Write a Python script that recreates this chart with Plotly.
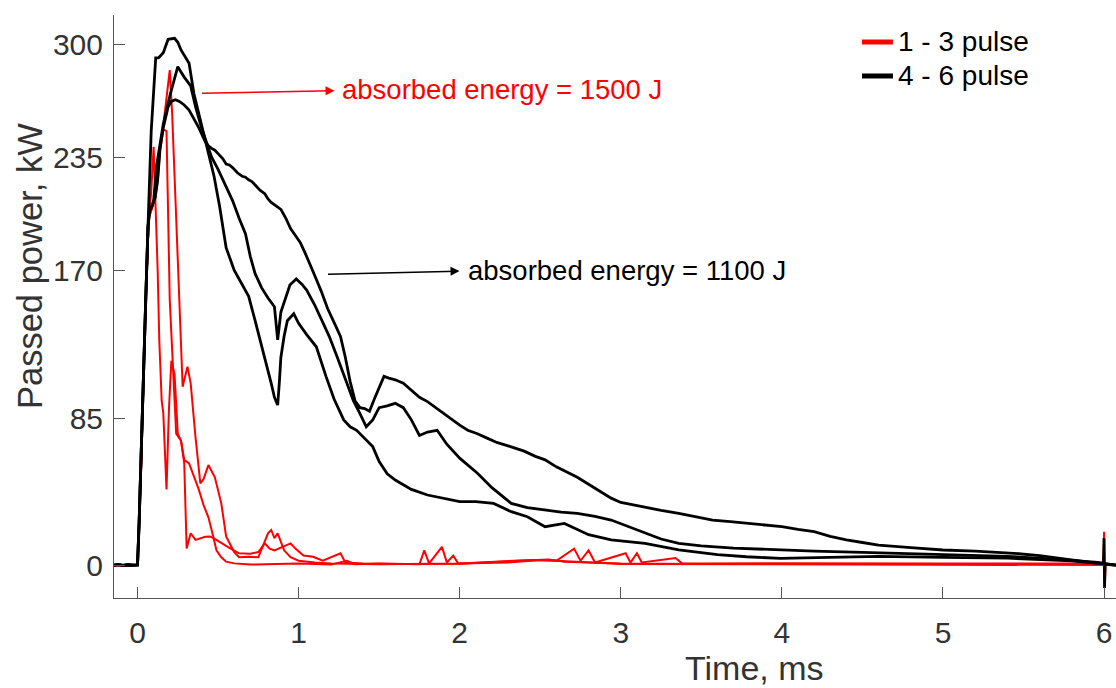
import plotly.graph_objects as go

FONT = "Liberation Sans, Arial, sans-serif"

# ---------------- data (time in ms, passed power in kW) ----------------
base_t = [-0.146, -0.12, -0.09, -0.06, -0.03, 0.0, 0.01, 0.03, 0.05, 0.065]
base_p = [0.5, 0.8, 0.4, 0.7, 0.5, 0.6, 25, 95, 150, 195]

# black pulse with lowest peak / highest tail
t_black_a = base_t + [0.075, 0.09, 0.11, 0.125, 0.14, 0.16, 0.19, 0.21, 0.235, 0.26, 0.29, 0.32, 0.35, 0.38,
    0.42, 0.44, 0.46, 0.48, 0.5, 0.53, 0.55, 0.57, 0.59, 0.62, 0.65, 0.67, 0.69, 0.71, 0.73, 0.76, 0.79,
    0.81, 0.83, 0.86, 0.89, 0.92, 0.95, 0.98, 1.01, 1.04, 1.07, 1.1, 1.14, 1.18, 1.22, 1.26, 1.29, 1.32,
    1.35, 1.38, 1.41, 1.44, 1.47, 1.5, 1.53, 1.56, 1.6, 1.65, 1.7, 1.75, 1.8, 1.85, 1.9, 1.95, 2.0, 2.05,
    2.11, 2.17, 2.23, 2.32, 2.4, 2.47, 2.53, 2.6, 2.67, 2.73, 2.8, 2.87, 2.94, 3.0, 3.08, 3.15, 3.25, 3.36,
    3.46, 3.57, 3.68, 3.78, 3.9, 4.0, 4.1, 4.2, 4.3, 4.4, 4.5, 4.6, 4.8, 5.0, 5.2, 5.44, 5.6, 5.8, 5.96,
    5.996, 6.0, 6.003, 6.006, 6.074]
p_black_a = base_p + [204, 207, 212, 222, 240, 252, 264, 267, 268, 267, 265, 262, 257, 252,
    244, 241.5, 240, 239, 237, 234, 231, 230.5, 229, 226, 224, 223.5, 222, 221, 219, 216, 214,
    211, 209, 207, 205, 200, 194, 190, 186, 180, 173, 167, 158, 148, 140, 132, 120, 106,
    95, 91, 90.5, 89, 96, 103, 109, 108, 107, 105, 101, 97, 94.5, 91, 88, 84.5, 81, 78,
    76, 73.5, 71, 68.5, 66, 63, 61, 57, 54, 51, 47, 43, 39, 36.5, 35, 34, 32, 30.3,
    28.4, 26.4, 25.5, 24.5, 23.5, 22.6, 21, 19.7, 17, 15, 13.5, 12, 10.5, 9.2, 8.5, 7.3, 6, 3.5, 1.5,
    1.5, 16, -12.6, 1.0, 0.5]

# black pulse with middle peak
t_black_b = base_t + [0.075, 0.09, 0.1, 0.12, 0.16, 0.2, 0.23, 0.25, 0.27, 0.29, 0.33, 0.36, 0.4, 0.43,
    0.46, 0.5, 0.53, 0.56, 0.59, 0.63, 0.67, 0.7, 0.73, 0.77, 0.81, 0.85, 0.87, 0.89, 0.92, 0.946, 0.985,
    1.02, 1.05, 1.1, 1.15, 1.19, 1.24, 1.3, 1.34, 1.38, 1.42, 1.46, 1.5, 1.55, 1.6, 1.65, 1.7, 1.75, 1.8,
    1.86, 1.92, 2.0, 2.11, 2.2, 2.32, 2.42, 2.53, 2.63, 2.73, 2.84, 2.94, 3.05, 3.15, 3.25, 3.36, 3.5,
    3.7, 3.99, 4.2, 4.5, 4.8, 5.1, 5.4, 5.7, 5.96, 6.074]
p_black_b = base_p + [204, 207, 210, 231, 254, 270, 280, 287, 284, 281, 276, 264, 251, 243,
    235, 228, 222, 216, 210, 200, 191, 178, 168, 160, 154, 149, 130, 146, 155, 161.5, 165,
    162, 158.6, 150, 140, 132, 120, 105, 95, 87.7, 80, 84, 91, 92, 93.5, 91, 84, 75, 77,
    78, 70, 62, 53.3, 45, 36, 33.5, 32.2, 31, 30.3, 28.5, 26.4, 22.5, 18.8, 15.5, 13, 11.5,
    10.3, 9.2, 8.5, 7.8, 7, 6.3, 5.5, 4, 2, 0.5]

# black pulse with highest peak / lowest tail
t_black_c = base_t + [0.085, 0.113, 0.13, 0.16, 0.19, 0.23, 0.25, 0.27, 0.3, 0.32, 0.35, 0.38, 0.42,
    0.475, 0.51, 0.55, 0.6, 0.65, 0.69, 0.73, 0.79, 0.83, 0.85, 0.87, 0.88, 0.89, 0.91, 0.93, 0.97, 1.0,
    1.05, 1.11, 1.17, 1.22, 1.28, 1.32, 1.36, 1.41, 1.46, 1.5, 1.55, 1.6, 1.7, 1.8, 1.9, 2.0, 2.1, 2.21,
    2.32, 2.42, 2.53, 2.65, 2.8, 2.94, 3.15, 3.36, 3.6, 3.78, 3.99, 4.3, 4.6, 5.0, 5.4, 5.8, 5.96, 6.074]
p_black_c = base_p + [250, 292, 292, 295, 302.7, 303.3, 301, 296.6, 292, 289, 271.6, 260, 245,
    224, 206.5, 183, 170, 162, 155, 141, 120, 105, 97, 92.5, 105, 120, 132, 141, 145, 139.5,
    133, 126, 109, 96, 84, 80, 78, 73, 68.6, 60, 53, 49.4, 44, 40.8, 39, 37, 37, 36,
    31.2, 28.3, 22.6, 24.5, 18, 15, 13, 9.2, 6.5, 5.3, 4.4, 5, 5.5, 5, 4.5, 3, 1.5, 0.5]

red_base_t = [-0.146, -0.11, -0.07, -0.03, 0.0, 0.02, 0.05, 0.07]
red_base_p = [0.3, 0.6, 0.2, 0.5, 0.5, 50, 150, 200]

# red pulse with spike at 0.1 ms
t_red_1 = red_base_t + [0.085, 0.1, 0.11, 0.125, 0.135, 0.15, 0.16, 0.18, 0.195, 0.21, 0.23, 0.25, 0.27,
    0.29, 0.32, 0.35, 0.38, 0.41, 0.44, 0.47, 0.49, 0.52, 0.55, 0.6, 0.7, 1.0, 1.2, 1.3, 1.35, 1.5, 1.75,
    1.78, 1.81, 1.89, 1.92, 1.96, 1.99, 2.3, 2.5, 2.6, 2.71, 2.75, 2.8, 2.84, 3.03, 3.06, 3.1, 3.13, 3.34,
    3.38, 3.7, 4.0, 4.5, 5.0, 5.5, 5.96, 5.995, 6.0, 6.004, 6.01, 6.074]
p_red_1 = red_base_p + [215, 241, 215, 170, 130, 95, 88, 44, 90, 118, 110, 76, 72,
    61, 59, 52, 44, 35, 28, 17, 9, 5, 2.5, 1.5, 0.8, 1.5, 0.8, 3, 1, 1.5, 1,
    9, 1.5, 11, 2, 6, 1.5, 2, 3.5, 3, 10, 3, 9, 2, 7.3, 2, 7.3, 2, 4.6,
    1.5, 1.5, 1.8, 1.5, 1.5, 1.5, 1.5, 2, 19.7, -12.6, 1, 0.5]

# red pulse with low plateau after 0.3 ms
t_red_2 = red_base_t + [0.09, 0.11, 0.125, 0.14, 0.16, 0.18, 0.2, 0.24, 0.27, 0.29, 0.305, 0.33, 0.36,
    0.42, 0.45, 0.49, 0.56, 0.63, 0.7, 0.75, 0.79, 0.82, 0.85, 0.9, 0.95, 0.98, 1.03, 1.09, 1.15, 1.26,
    1.29, 1.4, 1.6, 2.0, 2.4, 2.55, 2.65, 3.0, 3.5, 4.0, 5.0, 5.96, 6.074]
p_red_2 = red_base_p + [206, 211, 221, 239, 251, 250, 153, 76, 72, 59, 10, 18.8, 15,
    16.8, 17, 15, 11, 7.3, 7, 8, 13, 10, 9, 11, 13, 10, 6, 5.3, 3, 7.3,
    2, 1.5, 1.2, 1.3, 3, 3.8, 2.5, 1.5, 1.2, 1.5, 1.2, 1.2, 0.5]

# red pulse with the tallest spike (0.2 ms)
t_red_3 = red_base_t + [0.09, 0.1, 0.12, 0.16, 0.2, 0.215, 0.24, 0.26, 0.28, 0.31, 0.33, 0.36, 0.39,
    0.41, 0.44, 0.48, 0.52, 0.55, 0.6, 0.63, 0.69, 0.75, 0.79, 0.81, 0.83, 0.85, 0.87, 0.91, 0.95, 1.0,
    1.1, 1.2, 1.5, 2.0, 2.45, 2.6, 3.0, 4.0, 5.0, 6.074]
p_red_3 = red_base_p + [206, 209, 230, 253, 285, 260, 200, 153, 103, 114.6, 105, 74, 47.5,
    50, 58, 51, 36, 17, 8, 5, 5.3, 5, 15, 18.8, 20.7, 16, 18.8, 9, 5, 3,
    2, 1.5, 1, 1.5, 3.5, 3, 1.2, 1, 1, 0.5]

y_ticks = [0, 85, 170, 235, 300]
x_ticks = [0, 1, 2, 3, 4, 5, 6]
legend_names = ["1 - 3 pulse", "4 - 6 pulse"]

RED = "#ff0000"
BLACK = "#000000"

fig = go.Figure()
for t, p in [(t_red_1, p_red_1), (t_red_2, p_red_2), (t_red_3, p_red_3)]:
    fig.add_trace(go.Scatter(x=t, y=p, mode="lines", line=dict(color=RED, width=2),
                             showlegend=False, hoverinfo="skip"))
for t, p in [(t_black_a, p_black_a), (t_black_b, p_black_b), (t_black_c, p_black_c)]:
    fig.add_trace(go.Scatter(x=t, y=p, mode="lines", line=dict(color=BLACK, width=2.8),
                             showlegend=False, hoverinfo="skip"))

axis_common = dict(
    showgrid=False, zeroline=False, showline=True, linecolor="#555555", linewidth=1,
    ticks="inside", ticklen=11, tickwidth=1, tickcolor="#555555",
    tickfont=dict(family=FONT, size=30, color="#333333"),
)

fig.update_layout(
    width=1116, height=688,
    margin=dict(l=114, r=0, t=15, b=90),
    paper_bgcolor="white", plot_bgcolor="white",
    font=dict(family=FONT, color="#000000"),
    xaxis=dict(range=[-0.146, 6.074], tickvals=x_ticks, ticklabelstandoff=8, **axis_common),
    yaxis=dict(range=[-18.4, 316.7], tickvals=y_ticks, ticklabelstandoff=4, **axis_common),
    showlegend=False,
)

# manual legend (line samples + labels)
legend_rows = [(0.9537, RED, legend_names[0]), (0.8954, BLACK, legend_names[1])]
shapes = []
annotations = []
for yy, col, name in legend_rows:
    shapes.append(dict(type="line", xref="paper", yref="paper", x0=0.7465, x1=0.7774, y0=yy, y1=yy,
                       line=dict(color=col, width=5)))
    annotations.append(dict(x=0.7804, y=yy, xref="paper", yref="paper", text=name, showarrow=False,
                            xanchor="left", yanchor="middle",
                            font=dict(family=FONT, size=28, color="#000000")))

annotations += [
    # red arrow and text
    dict(x=1.223, y=273.2, ax=0.391, ay=271.7, xref="x", yref="y", axref="x", ayref="y",
         text="", showarrow=True, arrowhead=2, arrowsize=1.2, arrowwidth=1.5, arrowcolor=RED),
    dict(x=1.255, y=273.6, xref="x", yref="y", text="absorbed energy = 1500 J", showarrow=False,
         xanchor="left", yanchor="middle", font=dict(family=FONT, size=27.5, color=RED)),
    # black arrow and text
    dict(x=1.999, y=169.5, ax=1.173, ay=167.6, xref="x", yref="y", axref="x", ayref="y",
         text="", showarrow=True, arrowhead=2, arrowsize=1.2, arrowwidth=1.5, arrowcolor=BLACK),
    dict(x=2.036, y=170.1, xref="x", yref="y", text="absorbed energy = 1100 J", showarrow=False,
         xanchor="left", yanchor="middle", font=dict(family=FONT, size=27.5, color=BLACK)),
    # axis titles
    dict(x=0.6397, y=-0.1195, xref="paper", yref="paper", text="Time, ms", showarrow=False,
         xanchor="center", yanchor="middle", font=dict(family=FONT, size=34, color="#333333")),
    dict(x=-0.0838, y=0.5695, xref="paper", yref="paper", text="Passed power, kW", showarrow=False,
         textangle=-90, xanchor="center", yanchor="middle",
         font=dict(family=FONT, size=34.5, color="#333333")),
]
fig.update_layout(annotations=annotations, shapes=shapes)

fig.write_html("out.html")
